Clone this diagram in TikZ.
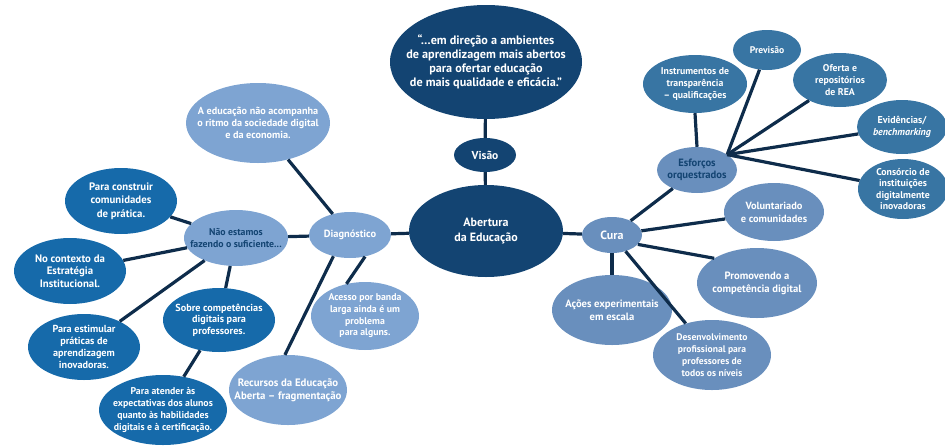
\documentclass[tikz,border=0pt]{standalone}
\usepackage{fontspec}
\setmainfont{PT Sans}
\usetikzlibrary{shapes.geometric}
\definecolor{navy}{RGB}{19,68,114}
\definecolor{pale}{RGB}{126,164,210}
\definecolor{royal}{RGB}{22,106,170}
\definecolor{dusk}{RGB}{105,143,189}
\definecolor{steel}{RGB}{56,117,163}
\definecolor{wire}{RGB}{14,44,75}
\begin{document}
\begin{tikzpicture}[x=1pt, y=-1pt,
        bubble/.style={ellipse, inner xsep=-30pt, inner ysep=-20pt, align=center, text=white, font=\bfseries\fontsize{10}{12}\selectfont},
        dims/.style 2 args={minimum width=#1pt, minimum height=#2pt},
        fs/.style 2 args={font=\bfseries\fontsize{#1}{#2}\selectfont},
        link/.style={draw=wire, line width=3.2pt}
      ]
        \useasboundingbox (0,0) rectangle (945,445);
        % centre
        \node[bubble, fill=navy, dims={192}{114}, fs={12.2}{14}] (quote) at (486,62) {“…em direção a ambientes\\de aprendizagem mais abertos\\para ofertar educação\\de mais qualidade e eficácia.”};
        \node[bubble, fill=navy, dims={62}{34}, fs={11.5}{15}] (visao) at (485,155) {Visão};
        \node[bubble, fill=navy, dims={154}{92}, fs={12}{15}] (abertura) at (486,231) {Abertura\\da Educação};
        % left: diagnostico
        \node[bubble, fill=pale, dims={82}{46}, fs={10.4}{12}] (diag) at (350,235) {Diagnóstico};
        \node[bubble, fill=pale, dims={144}{80}, fs={10.2}{11.7}] (educ) at (258,123) {A educação não acompanha\\o ritmo da sociedade digital\\e da economia.};
        \node[bubble, fill=pale, dims={104}{56}, text=navy, fs={9.8}{12}] (naoest) at (236,238) {Não estamos\\fazendo o suficiente...};
        \node[bubble, fill=pale, dims={108}{68}, fs={9.8}{11.7}] (acesso) at (365,316) {Acesso por banda\\larga ainda é um\\problema\\para alguns.};
        \node[bubble, fill=pale, dims={118}{70}, fs={10.8}{12.7}] (recursos) at (288,390) {Recursos da Educação\\Aberta – fragmentação};
        \node[bubble, fill=royal, dims={112}{66}, fs={10.8}{13.5}] (constr) at (121,201) {Para construir\\comunidades\\de prática.};
        \node[bubble, fill=royal, dims={112}{66}, fs={10.8}{12.7}] (contexto) at (70,271) {No contexto da\\Estratégia\\Institucional.};
        \node[bubble, fill=royal, dims={112}{66}, fs={10.2}{11.8}] (estim) at (84,347) {Para estimular\\práticas de\\aprendizagem\\inovadoras.};
        \node[bubble, fill=royal, dims={112}{64}, fs={10.2}{11.7}] (sobre) at (219,320) {Sobre competências\\digitais para\\professores.};
        \node[bubble, fill=royal, dims={128}{70}, fs={9.8}{11.8}] (atender) at (163,410) {Para atender às\\expectativas dos alunos\\quanto às habilidades\\digitais e à certificação.};
        % right: cura
        \node[bubble, fill=dusk, dims={60}{36}, fs={12}{15}] (cura) at (612,235) {Cura};
        \node[bubble, fill=dusk, dims={80}{46}, text=navy, fs={10.6}{12.5}] (esforcos) at (697,170) {Esforços\\orquestrados};
        \node[bubble, fill=dusk, dims={100}{58}, fs={10.4}{13}] (volunt) at (774,212) {Voluntariado\\e comunidades};
        \node[bubble, fill=dusk, dims={120}{70}, fs={10.6}{13}] (promov) at (757,283) {Promovendo a\\competência digital};
        \node[bubble, fill=dusk, dims={120}{70}, fs={10.6}{13}] (acoes) at (612,310) {Ações experimentais\\em escala};
        \node[bubble, fill=dusk, dims={118}{70}, fs={9.6}{11.8}] (desenv) at (712,355) {Desenvolvimento\\profissional para\\professores de\\todos os níveis};
        \node[bubble, fill=steel, dims={104}{58}, fs={9.8}{12}] (instr) at (695,84) {Instrumentos de\\transparência\\– qualificações};
        \node[bubble, fill=steel, dims={68}{40}, fs={9.6}{12}] (previsao) at (767,50) {Previsão};
        \node[bubble, fill=steel, dims={94}{54}, fs={9.8}{12}] (oferta) at (840,80) {Oferta e\\repositórios\\de REA};
        \node[bubble, fill=steel, dims={90}{54}, fs={10}{12.5}] (evid) at (902,127) {Evidências/\\\textit{benchmarking}};
        \node[bubble, fill=steel, dims={90}{60}, fs={9.8}{11.6}] (consorcio) at (903,189) {Consórcio de\\instituições\\digitalmente\\inovadoras};
        % links
        \draw[link] (quote) -- (visao);
        \draw[link] (visao) -- (abertura);
        \draw[link] (abertura) -- (diag);
        \draw[link] (abertura) -- (cura);
        \draw[link] (diag) -- (educ);
        \draw[link] (diag) -- (naoest);
        \draw[link] (diag.305) -- (acesso.120);
        \draw[link] (diag.232) -- (recursos.95);
        \draw[link] (naoest) -- (constr);
        \draw[link] (naoest) -- (contexto);
        \draw[link] (naoest) -- (estim);
        \draw[link] (naoest) -- (sobre);
        \draw[link] (sobre) -- (atender);
        \draw[link] (cura) -- (esforcos);
        \draw[link] (cura) -- (volunt);
        \draw[link] (cura.340) -- (promov.150);
        \draw[link] (cura) -- (acoes);
        \draw[link] (cura) -- (desenv);
        \draw[link] (esforcos.north) -- (instr.south);
        \foreach \leaf in {previsao, oferta, evid, consorcio}
          \draw[link] (esforcos.27) -- (\leaf);
      \end{tikzpicture}
\end{document}
